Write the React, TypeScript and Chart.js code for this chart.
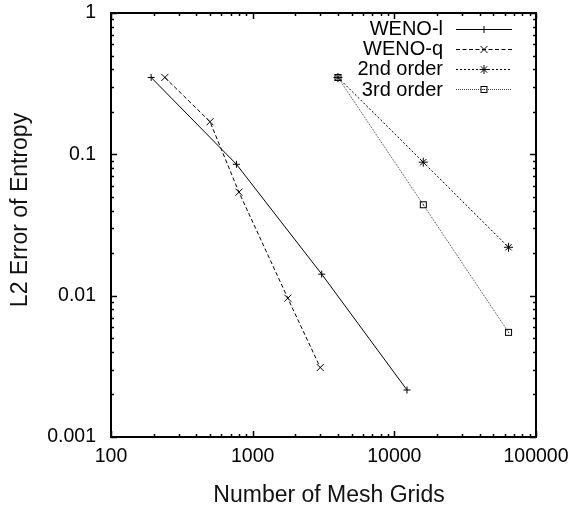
import { useEffect, useRef } from "react";
import { Chart, registerables } from "chart.js";

Chart.register(...registerables);

const seriesNames = ["WENO-l", "WENO-q", "2nd order", "3rd order"];
const wenoLX = [192, 768, 3072, 12288];
const wenoLY = [0.35, 0.085, 0.0142, 0.00215];
const wenoQX = [240, 500, 800, 1770, 3000];
const wenoQY = [0.35, 0.17, 0.054, 0.0096, 0.0031];
const secondX = [4000, 16000, 64000];
const secondY = [0.35, 0.088, 0.022];
const thirdX = [4000, 16000, 64000];
const thirdY = [0.35, 0.044, 0.0055];
const xTickLabels = ["100", "1000", "10000", "100000"];
const yTickLabels = ["0.001", "0.01", "0.1", "1"];
const xTitle = "Number of Mesh Grids";
const yTitle = "L2 Error of Entropy";

const FONT = "'Liberation Sans', Arial, Helvetica, sans-serif";

function pairs(xs: number[], ys: number[]) {
  return xs.map((x, i) => ({ x, y: ys[i] }));
}

function makeBoxDot(): HTMLCanvasElement {
  const c = document.createElement("canvas");
  c.width = 9;
  c.height = 9;
  const g = c.getContext("2d")!;
  g.strokeStyle = "#000";
  g.lineWidth = 1;
  g.strokeRect(1.5, 1.5, 6, 6);
  g.fillStyle = "#000";
  g.fillRect(4, 4, 1, 1);
  return c;
}

function minorValues(min: number, max: number) {
  const out: { v: number; major: boolean }[] = [];
  for (let e = Math.floor(Math.log10(min)); e <= Math.ceil(Math.log10(max)); e++) {
    const d = Math.pow(10, e);
    for (let k = 1; k <= 9; k++) {
      const v = k * d;
      if (v >= min * 0.9999 && v <= max * 1.0001) out.push({ v, major: k === 1 });
    }
  }
  return out;
}

function zeroPad(s: any) {
  s.paddingLeft = 0;
  s.paddingRight = 0;
  s.paddingTop = 0;
  s.paddingBottom = 0;
}

export default function App() {
  const ref = useRef<HTMLCanvasElement>(null);

  useEffect(() => {
    const canvas = ref.current!;
    const boxDot = makeBoxDot();
    const styles: any[] = [
      { dash: [], color: "#000", point: "cross", r: 3.5 },
      { dash: [4, 2.5], color: "#000", point: "crossRot", r: 5 },
      { dash: [2, 2], color: "#000", point: "star", r: 4.5 },
      { dash: [1, 1], color: "#444", point: boxDot, r: 4.5 },
    ];
    const data = [pairs(wenoLX, wenoLY), pairs(wenoQX, wenoQY), pairs(secondX, secondY), pairs(thirdX, thirdY)];

    const xMin = Number(xTickLabels[0]);
    const xMax = Number(xTickLabels[xTickLabels.length - 1]);
    const yMin = Number(yTickLabels[0]);
    const yMax = Number(yTickLabels[yTickLabels.length - 1]);

    const framePlugin = {
      id: "frame",
      afterDraw(chart: any) {
        const ctx = chart.ctx;
        const a = chart.chartArea;
        const xs = chart.scales.x;
        const ys = chart.scales.y;
        ctx.save();
        ctx.strokeStyle = "#000";
        // ticks
        ctx.lineWidth = 1.5;
        for (const t of minorValues(xMin, xMax)) {
          const px = Math.round(xs.getPixelForValue(t.v)) + 0.5;
          const len = t.major ? 6 : 3;
          ctx.beginPath();
          ctx.moveTo(px, a.bottom);
          ctx.lineTo(px, a.bottom - len);
          ctx.moveTo(px, a.top);
          ctx.lineTo(px, a.top + len);
          ctx.stroke();
        }
        for (const t of minorValues(yMin, yMax)) {
          const py = Math.round(ys.getPixelForValue(t.v)) + 0.5;
          const len = t.major ? 6 : 3;
          ctx.beginPath();
          ctx.moveTo(a.left, py);
          ctx.lineTo(a.left + len, py);
          ctx.moveTo(a.right, py);
          ctx.lineTo(a.right - len, py);
          ctx.stroke();
        }
        ctx.lineWidth = 2;
        ctx.strokeRect(a.left, a.top, a.right - a.left, a.bottom - a.top);

        // legend
        ctx.font = `20px ${FONT}`;
        ctx.textAlign = "right";
        ctx.textBaseline = "alphabetic";
        ctx.fillStyle = "#000";
        seriesNames.forEach((name, i) => {
          const cy = 28.5 + i * 20.2;
          ctx.fillText(name, 443, cy + 6.5);
          const st = styles[i];
          ctx.save();
          ctx.lineWidth = 1;
          ctx.strokeStyle = st.color;
          ctx.setLineDash(st.dash);
          ctx.beginPath();
          ctx.moveTo(456, Math.round(cy) + 0.5);
          ctx.lineTo(512, Math.round(cy) + 0.5);
          ctx.stroke();
          ctx.restore();
          ctx.save();
          ctx.strokeStyle = "#000";
          ctx.fillStyle = "#000";
          ctx.lineWidth = 1;
          const mx = 484;
          const my = Math.round(cy) + 0.5;
          const r = st.r;
          if (st.point === "cross" || st.point === "star") {
            ctx.beginPath();
            ctx.moveTo(mx - r, my);
            ctx.lineTo(mx + r, my);
            ctx.moveTo(mx, my - r);
            ctx.lineTo(mx, my + r);
            ctx.stroke();
          }
          if (st.point === "crossRot" || st.point === "star") {
            const o = r * Math.SQRT1_2;
            ctx.beginPath();
            ctx.moveTo(mx - o, my - o);
            ctx.lineTo(mx + o, my + o);
            ctx.moveTo(mx - o, my + o);
            ctx.lineTo(mx + o, my - o);
            ctx.stroke();
          }
          if (typeof st.point !== "string") {
            ctx.drawImage(st.point, Math.round(mx) - 4.5 + 0.0, Math.round(cy) - 4);
          }
          ctx.restore();
        });

        // axis titles
        ctx.font = `23px ${FONT}`;
        ctx.fillStyle = "#111";
        ctx.textAlign = "center";
        ctx.textBaseline = "alphabetic";
        ctx.fillText(xTitle, 329, 501.5);
        ctx.save();
        ctx.translate(27, 210);
        ctx.rotate(-Math.PI / 2);
        ctx.fillText(yTitle, 0, 0);
        ctx.restore();
        ctx.restore();
      },
    };

    const chart = new Chart(canvas, {
      type: "line",
      data: {
        datasets: data.map((d, i) => ({
          label: seriesNames[i],
          data: d,
          borderColor: styles[i].color,
          borderWidth: 1,
          borderDash: styles[i].dash,
          pointStyle: styles[i].point,
          pointRadius: styles[i].r,
          pointHoverRadius: styles[i].r,
          pointBorderColor: "#000",
          pointBackgroundColor: "#000",
          pointBorderWidth: 1,
          fill: false,
          tension: 0,
        })),
      },
      options: {
        animation: false,
        responsive: false,
        devicePixelRatio: 1,
        events: [],
        layout: { padding: { top: 13, right: 38, left: 0, bottom: 0 } },
        plugins: {
          legend: { display: false },
          tooltip: { enabled: false },
          title: { display: false },
        },
        scales: {
          x: {
            type: "logarithmic",
            min: xMin,
            max: xMax,
            border: { display: false },
            grid: { display: false, drawTicks: false },
            afterBuildTicks: (s: any) => {
              s.ticks = xTickLabels.map((l) => ({ value: Number(l) }));
            },
            afterFit: (s: any) => {
              s.height = 72;
              zeroPad(s);
            },
            ticks: {
              autoSkip: false,
              maxRotation: 0,
              minRotation: 0,
              padding: 8,
              color: "#000",
              font: { family: FONT, size: 19.5 },
              callback: (_v: any, i: number) => xTickLabels[i],
            },
          },
          y: {
            type: "logarithmic",
            min: yMin,
            max: yMax,
            border: { display: false },
            grid: { display: false, drawTicks: false },
            afterBuildTicks: (s: any) => {
              s.ticks = yTickLabels.map((l) => ({ value: Number(l) }));
            },
            afterFit: (s: any) => {
              s.width = 111;
              zeroPad(s);
            },
            ticks: {
              autoSkip: false,
              padding: 15,
              color: "#000",
              font: { family: FONT, size: 19.5 },
              callback: (_v: any, i: number) => yTickLabels[i],
            },
          },
        },
      } as any,
      plugins: [framePlugin],
    });
    return () => chart.destroy();
  }, []);

  return (
    <div style={{ position: "absolute", left: 0, top: 0, width: 574, height: 509, background: "#fff" }}>
      <canvas ref={ref} width={574} height={509} style={{ width: 574, height: 509, display: "block" }} />
    </div>
  );
}
